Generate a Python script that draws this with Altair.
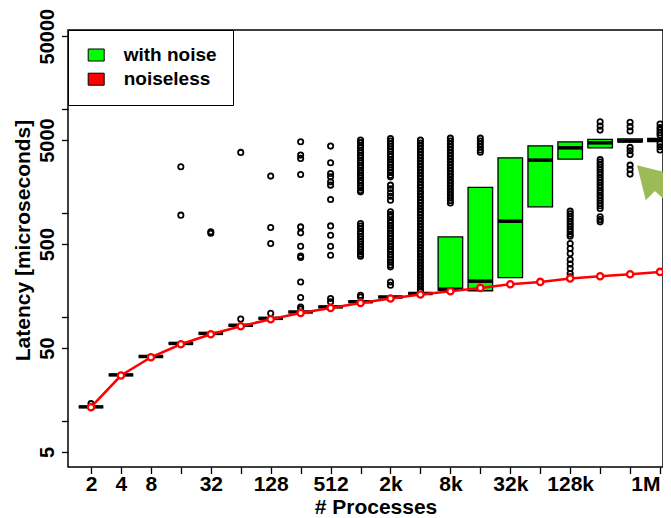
import altair as alt
import pandas as pd

# ---------------- data ----------------
categories = ["2", "4", "8", "16", "32", "64", "128", "256", "512", "1k",
              "2k", "4k", "8k", "16k", "32k", "64k", "128k", "256k", "512k", "1M"]
positions = list(range(1, 21))  # log2(# processes)
tick_labels = ["2", "4", "8", "", "32", "", "128", "", "512", "",
               "2k", "", "8k", "", "32k", "", "128k", "", "", "1M"]

noiseless = [13.5, 27.2, 40.8, 54.4, 67.9, 81.1, 94.6, 108.9, 121.6, 135.9,
             149.8, 163.7, 176.1, 189.4, 205.6, 216.4, 233.3, 245.6, 256.6, 270]

noise_q1 = [13.6, 27.6, 41.5, 55.4, 69.2, 82.8, 96.6, 111.2, 124.5, 139.5,
            155.0, 167.5, 180, 178, 238, 1140, 3280, 4215, 4800, 4850]
noise_median = [13.6, 27.6, 41.5, 55.4, 69.2, 82.8, 96.6, 111.2, 124.5, 139.5,
                155.0, 167.5, 184, 220, 830, 3210, 4215, 4710, 4900, 5000]
noise_q3 = [13.6, 27.6, 41.5, 55.4, 69.2, 82.8, 96.6, 111.2, 124.5, 139.5,
            155.0, 167.5, 586, 1753, 3380, 4405, 4815, 5080, 5150, 5200]

out_2 = [14.6]
out_16 = [2768, 949]
out_32 = [658, 637]
out_64 = [3808, 95]
out_128 = [2253, 722, 507, 108]
out_256 = [4819, 3587, 3334, 2337, 732, 641, 477, 383, 372, 216, 153, 124, 119]
out_512 = [4378, 3025, 2391, 2217, 1985, 1845, 1343, 748, 609, 477, 391, 150, 139]
out_1k = [5000, 4730, 4470, 4230, 4000, 3780, 3580, 3380, 3200, 3030, 2860, 2710,
          2560, 2420, 2290, 2170, 2050, 1940, 1830, 1730, 1640, 1590,
          789, 745, 705, 665, 630, 595, 560, 530, 500, 470, 445, 420, 400, 383, 161, 155]
out_2k = [5190, 4900, 4620, 4360, 4110, 3880, 3660, 3450, 3260, 3070, 2900, 2740,
          2580, 2440, 2300, 2217, 1845, 1700, 1560, 1440, 1323, 1021, 960, 914,
          849, 800, 755, 712, 672, 634, 598, 564, 532, 502, 474, 447, 422, 398,
          375, 354, 334, 315, 302, 216, 201]
out_4k = [5000, 4680, 4380, 4100, 3840, 3590, 3360, 3150, 2950, 2760, 2580, 2420,
          2260, 2120, 1980, 1850, 1740, 1620, 1520, 1420, 1330, 1250, 1170, 1090,
          1020, 956, 895, 838, 784, 734, 687, 643, 602, 563, 527, 494, 462, 432,
          405, 379, 355, 332, 311, 291, 272, 255, 239, 223, 209, 196, 183, 175]
out_8k = [5220, 4890, 4580, 4290, 4020, 3760, 3520, 3300, 3090, 2890, 2710, 2540,
          2380, 2230, 2080, 1950, 1830, 1710, 1600, 1500, 1400, 1310, 1240]
out_16k = [5220, 4890, 4580, 4290, 4020, 3830]
out_128k = [1037, 980, 925, 875, 826, 780, 737, 696, 658, 622, 596,
            507, 454, 406, 356, 321, 291, 261, 242]
out_256k = [7500, 6820, 6240, 3260, 3080, 2910, 2750, 2600, 2450, 2320, 2190, 2070,
            1950, 1840, 1740, 1650, 1560, 1470, 1390, 1310, 1240, 1170, 1101,
            914, 860, 818]
out_512k = [7430, 6740, 6110, 4255, 3945, 3640, 2873, 2614, 2355]
out_1M = [7130, 6620, 6240, 5880, 5590, 4650, 4310, 4010]

outlier_groups = [("2", out_2), ("16", out_16), ("32", out_32), ("64", out_64),
                  ("128", out_128), ("256", out_256), ("512", out_512), ("1k", out_1k),
                  ("2k", out_2k), ("4k", out_4k), ("8k", out_8k), ("16k", out_16k),
                  ("128k", out_128k), ("256k", out_256k), ("512k", out_512k), ("1M", out_1M)]

# annotation arrow (data coordinates: log2 position, microseconds)
arrow_tip = (19.23, 2872)
arrow_shaft = (19.83, 1972, 22.0, 522)

# ---------------- tables ----------------
pos_of = dict(zip(categories, positions))
half = 0.41
boxes = pd.DataFrame({
    "x": positions,
    "xlo": [p - half for p in positions],
    "xhi": [p + half for p in positions],
    "q1": noise_q1, "med": noise_median, "q3": noise_q3,
    "series": ["with noise"] * len(positions),
})
out_rows = [{"x": pos_of[c], "v": v} for c, vals in outlier_groups for v in vals]
outliers = pd.DataFrame(out_rows)
line_df = pd.DataFrame({"x": positions, "v": noiseless})
tip_df = pd.DataFrame({"x": [arrow_tip[0]], "v": [arrow_tip[1]]})
shaft_df = pd.DataFrame({"x": [arrow_shaft[0]], "v": [arrow_shaft[1]],
                         "x2": [arrow_shaft[2]], "v2": [arrow_shaft[3]]})

# ---------------- scales / axes ----------------
FONT = "Liberation Sans"
xscale = alt.Scale(domain=[0.232, 20.099], nice=False, zero=False)
yscale = alt.Scale(type="log", domain=[3.59, 57280], nice=False)

label_arr = "[" + ",".join("'%s'" % t for t in tick_labels) + "]"
xaxis = alt.Axis(
    values=positions, labelExpr=label_arr + "[datum.value - 1]",
    title="# Processes", grid=False, domain=False,
    tickSize=6.5, tickWidth=1.3, tickColor="black",
    labelFont=FONT, labelFontSize=21, labelFontWeight="bold", labelColor="black",
    labelPadding=16.5, labelBaseline="alphabetic", labelOverlap=False, labelFlush=False,
    labelAlign={"condition": {"test": "datum.value == 20", "value": "right"}, "value": "center"},
    titleFont=FONT, titleFontSize=21, titleFontWeight="bold", titleColor="black",
    titleX=307.5, titleY=46, titleBaseline="alphabetic", titleAlign="center",
)
yaxis = alt.Axis(
    values=[5, 10, 50, 100, 500, 1000, 5000, 10000, 50000], format="d",
    labelExpr="indexof([5,50,500,5000,50000], datum.value) >= 0 ? datum.label : ''",
    title="Latency [microseconds]", grid=False, domain=False,
    tickSize=6.5, tickWidth=1.3, tickColor="black",
    labelFont=FONT, labelFontSize=20, labelFontWeight="bold", labelColor="black",
    labelAngle=270, labelAlign="center", labelBaseline="alphabetic", labelPadding=8.5,
    labelOverlap=False, labelFlush=False,
    titleFont=FONT, titleFontSize=21, titleFontWeight="bold", titleColor="black",
    titleAngle=270, titleX=-38.5, titleY=210, titleAlign="center", titleBaseline="alphabetic",
)

legend = alt.Legend(
    title=None, orient="none", legendX=0, legendY=0,
    padding=15.5, strokeColor="black", fillColor="white",
    symbolType="M-1,-0.75H1V0.75H-1Z", symbolSize=256,
    symbolStrokeColor="black", symbolStrokeWidth=1, symbolOpacity=1,
    symbolOffset=3.2, labelOffset=18, rowPadding=4.2,
    labelFont=FONT, labelFontSize=19, labelFontWeight="bold", labelColor="black",
)

color = alt.Color("series:N",
                  scale=alt.Scale(domain=["with noise", "noiseless"],
                                  range=["#00ff00", "#ff0000"]),
                  legend=legend)

box_layer = alt.Chart(boxes).mark_rect(stroke="black", strokeWidth=1.3).encode(
    x=alt.X("xlo:Q", scale=xscale, axis=xaxis), x2="xhi:Q",
    y=alt.Y("q1:Q", scale=yscale, axis=yaxis), y2="q3:Q",
    color=color,
)
median_layer = alt.Chart(boxes).mark_rule(color="black", strokeWidth=3.5).encode(
    x=alt.X("xlo:Q", scale=xscale, axis=xaxis), x2="xhi:Q",
    y=alt.Y("med:Q", scale=yscale, axis=yaxis),
)
outlier_layer = alt.Chart(outliers).mark_point(
    shape="circle", filled=False, color="black", size=28, strokeWidth=1.8, opacity=1
).encode(
    x=alt.X("x:Q", scale=xscale, axis=xaxis),
    y=alt.Y("v:Q", scale=yscale, axis=yaxis),
)
line_layer = alt.Chart(line_df).mark_line(color="#ff0000", strokeWidth=2.5).encode(
    x=alt.X("x:Q", scale=xscale, axis=xaxis),
    y=alt.Y("v:Q", scale=yscale, axis=yaxis),
)
point_layer = alt.Chart(line_df).mark_circle(
    fill="white", stroke="#ff0000", strokeWidth=2.3, size=40, opacity=1
).encode(
    x=alt.X("x:Q", scale=xscale, axis=xaxis),
    y=alt.Y("v:Q", scale=yscale, axis=yaxis),
)
shaft_layer = alt.Chart(shaft_df).mark_rule(
    color="#9bbb59", strokeWidth=13, strokeCap="butt", clip=True
).encode(
    x=alt.X("x:Q", scale=xscale, axis=xaxis), x2="x2:Q",
    y=alt.Y("v:Q", scale=yscale, axis=yaxis), y2="v2:Q",
)
head_layer = alt.Chart(tip_df).mark_point(
    shape="M0,0L0.6,1L-0.6,1Z", filled=True, color="#9bbb59", size=3844,
    angle=315, opacity=1, clip=True
).encode(
    x=alt.X("x:Q", scale=xscale, axis=xaxis),
    y=alt.Y("v:Q", scale=yscale, axis=yaxis),
)

chart = alt.layer(
    box_layer, median_layer, outlier_layer, line_layer, point_layer,
    shaft_layer, head_layer
).properties(
    width=595, height=437,
    autosize=alt.AutoSizeParams(type="none"),
    padding={"left": 60, "top": 22, "right": 0, "bottom": 51},
    background="white",
).configure_view(stroke="black", strokeWidth=1.5)

chart.save("out.html", embed_options={"renderer": "svg", "actions": False})
